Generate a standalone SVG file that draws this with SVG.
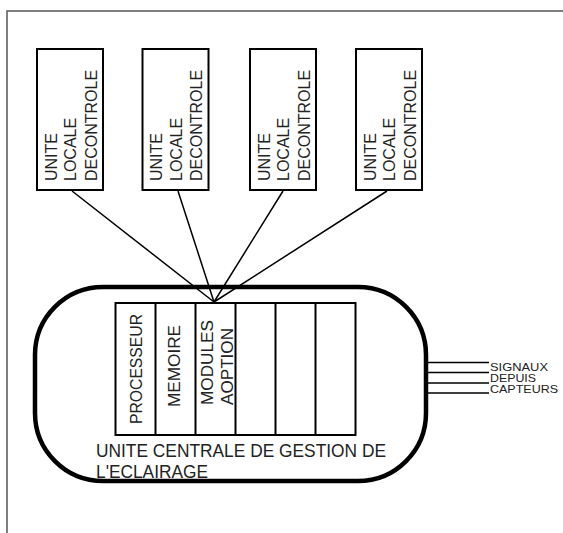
<svg xmlns="http://www.w3.org/2000/svg" width="563" height="533" viewBox="0 0 563 533">
<style>
.box{fill:#fff;stroke:#000;stroke-width:2}
.t{font-family:"Liberation Sans",Arial,sans-serif;fill:#222}
.bt{font-size:16px}
.rt{font-size:17px}
.st{font-size:11.5px}
.conn{stroke:#000;stroke-width:1.5;fill:none}
</style>
<rect width="563" height="533" fill="#fff"/>
<path d="M7,533 V11 H563" fill="none" stroke="#555" stroke-width="1.5"/>
<g id="central">
<rect x="35" y="287" width="391" height="194" rx="68" ry="68" fill="none" stroke="#000" stroke-width="4.5"/>
<text class="t" x="96" y="457" font-size="18" textLength="290" lengthAdjust="spacingAndGlyphs">UNITE CENTRALE DE GESTION DE</text>
<text class="t" x="96" y="478" font-size="18" textLength="112" lengthAdjust="spacingAndGlyphs">L'ECLAIRAGE</text>
</g>
<g id="rack">
<rect class="box" x="115.5" y="303" width="240" height="132"/>
<path d="M155.5,303V435M195.5,303V435M235.5,303V435M275.5,303V435M315.5,303V435" stroke="#000" stroke-width="2"/>
<text class="t rt" transform="translate(142,424) rotate(-90)" textLength="110" lengthAdjust="spacingAndGlyphs">PROCESSEUR</text>
<text class="t rt" transform="translate(180,407) rotate(-90)" textLength="82" lengthAdjust="spacingAndGlyphs">MEMOIRE</text>
<text class="t rt" transform="translate(212.5,405) rotate(-90)" textLength="85" lengthAdjust="spacingAndGlyphs">MODULES</text>
<text class="t rt" transform="translate(232.5,405) rotate(-90)" textLength="77" lengthAdjust="spacingAndGlyphs">AOPTION</text>
</g>
<g id="ulc1">
<rect class="box" x="37" y="49" width="66" height="141"/>
<text class="t bt" transform="translate(56.5,181) rotate(-90)">UNITE</text>
<text class="t bt" transform="translate(76,181) rotate(-90)">LOCALE</text>
<text class="t bt" transform="translate(96.5,181) rotate(-90)">DECONTROLE</text>
</g>
<g id="ulc2">
<rect class="box" x="142.5" y="49" width="66" height="141"/>
<text class="t bt" transform="translate(162,181) rotate(-90)">UNITE</text>
<text class="t bt" transform="translate(181.5,181) rotate(-90)">LOCALE</text>
<text class="t bt" transform="translate(202,181) rotate(-90)">DECONTROLE</text>
</g>
<g id="ulc3">
<rect class="box" x="250" y="49" width="66" height="141"/>
<text class="t bt" transform="translate(269.5,181) rotate(-90)">UNITE</text>
<text class="t bt" transform="translate(289,181) rotate(-90)">LOCALE</text>
<text class="t bt" transform="translate(309.5,181) rotate(-90)">DECONTROLE</text>
</g>
<g id="ulc4">
<rect class="box" x="356" y="49" width="66" height="141"/>
<text class="t bt" transform="translate(375.5,181) rotate(-90)">UNITE</text>
<text class="t bt" transform="translate(395,181) rotate(-90)">LOCALE</text>
<text class="t bt" transform="translate(415.5,181) rotate(-90)">DECONTROLE</text>
</g>
<g id="connectors">
<path class="conn" d="M72,191 L214,302 M178,191 L214,302 M283,191 L214,302 M387,191 L214,302"/>
<path class="conn" d="M427,362.5 H489 M427,372.5 H489 M427,383 H489 M427,393 H489"/>
</g>
<g id="signaux">
<text class="t st" x="490" y="371" textLength="58" lengthAdjust="spacingAndGlyphs">SIGNAUX</text>
<text class="t st" x="490" y="382" textLength="46" lengthAdjust="spacingAndGlyphs">DEPUIS</text>
<text class="t st" x="490" y="393" textLength="68" lengthAdjust="spacingAndGlyphs">CAPTEURS</text>
</g>
</svg>
